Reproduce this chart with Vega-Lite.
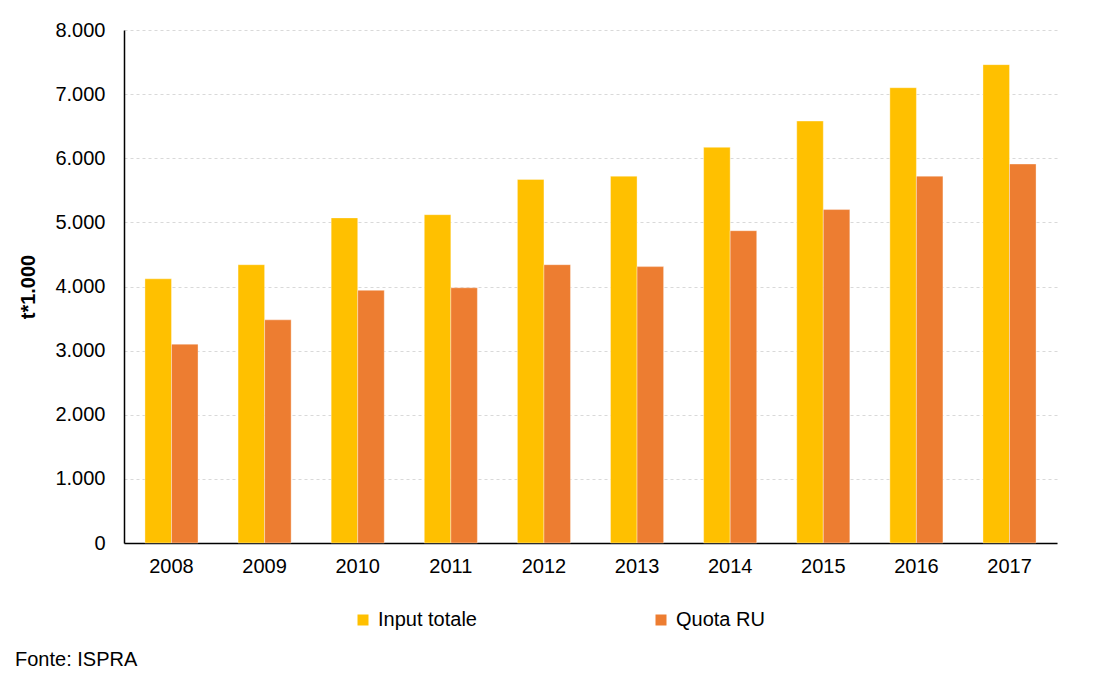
{
  "$schema": "https://vega.github.io/schema/vega-lite/v6.json",
  "width": 933,
  "height": 513,
  "padding": {"top": 20, "left": 15, "right": 32, "bottom": 5},
  "autosize": {"type": "pad"},
  "background": "white",
  "config": {
    "locale": {"number": {"decimal": ",", "thousands": ".", "grouping": [3], "currency": ["€", ""]}},
    "font": "Liberation Sans",
    "view": {"stroke": null}
  },
  "title": {
    "text": "Fonte: ISPRA",
    "orient": "bottom",
    "anchor": "start",
    "frame": "group",
    "dx": -109,
    "offset": 20,
    "font": "Liberation Sans",
    "fontSize": 20,
    "fontWeight": "normal",
    "color": "#000000"
  },
  "data": {
    "values": [
      {"anno": "2008", "serie": "Input totale", "valore": 4120},
      {"anno": "2008", "serie": "Quota RU", "valore": 3100},
      {"anno": "2009", "serie": "Input totale", "valore": 4340},
      {"anno": "2009", "serie": "Quota RU", "valore": 3480},
      {"anno": "2010", "serie": "Input totale", "valore": 5070},
      {"anno": "2010", "serie": "Quota RU", "valore": 3940},
      {"anno": "2011", "serie": "Input totale", "valore": 5120},
      {"anno": "2011", "serie": "Quota RU", "valore": 3980},
      {"anno": "2012", "serie": "Input totale", "valore": 5670},
      {"anno": "2012", "serie": "Quota RU", "valore": 4340},
      {"anno": "2013", "serie": "Input totale", "valore": 5720},
      {"anno": "2013", "serie": "Quota RU", "valore": 4310},
      {"anno": "2014", "serie": "Input totale", "valore": 6170},
      {"anno": "2014", "serie": "Quota RU", "valore": 4870},
      {"anno": "2015", "serie": "Input totale", "valore": 6580},
      {"anno": "2015", "serie": "Quota RU", "valore": 5200},
      {"anno": "2016", "serie": "Input totale", "valore": 7100},
      {"anno": "2016", "serie": "Quota RU", "valore": 5720},
      {"anno": "2017", "serie": "Input totale", "valore": 7460},
      {"anno": "2017", "serie": "Quota RU", "valore": 5910}
    ]
  },
  "mark": {"type": "bar", "stroke": "#ffffff", "strokeOpacity": 0.35, "strokeWidth": 1},
  "encoding": {
    "x": {
      "field": "anno",
      "type": "nominal",
      "scale": {"paddingInner": 0.43, "paddingOuter": 0.225},
      "axis": {
        "title": null,
        "labelAngle": 0,
        "labelFontSize": 20,
        "labelColor": "#000000",
        "labelPadding": 13,
        "ticks": false,
        "domainColor": "#000000",
        "domainWidth": 1.5
      }
    },
    "xOffset": {"field": "serie", "type": "nominal", "sort": ["Input totale", "Quota RU"]},
    "y": {
      "field": "valore",
      "type": "quantitative",
      "scale": {"domain": [0, 8000], "nice": false},
      "axis": {
        "title": "t*1.000",
        "titleFontSize": 20,
        "titleFontWeight": "bold",
        "titleColor": "#000000",
        "titlePadding": 16,
        "values": [0, 1000, 2000, 3000, 4000, 5000, 6000, 7000, 8000],
        "format": ",d",
        "labelFontSize": 20,
        "labelColor": "#000000",
        "labelPadding": 19,
        "ticks": false,
        "domainColor": "#000000",
        "domainWidth": 1.5,
        "grid": true,
        "gridColor": "#d9d9d9",
        "gridDash": [3, 3],
        "gridWidth": 1
      }
    },
    "color": {
      "field": "serie",
      "type": "nominal",
      "scale": {"domain": ["Input totale", "Quota RU"], "range": ["#FFC000", "#ED7D31"]},
      "legend": {
        "title": null,
        "orient": "none",
        "direction": "horizontal",
        "legendX": 229,
        "legendY": 580,
        "symbolType": "square",
        "symbolSize": 121,
        "symbolStrokeWidth": 0,
        "labelFontSize": 20,
        "labelColor": "#000000",
        "labelOffset": 5,
        "columnPadding": 174
      }
    }
  }
}
